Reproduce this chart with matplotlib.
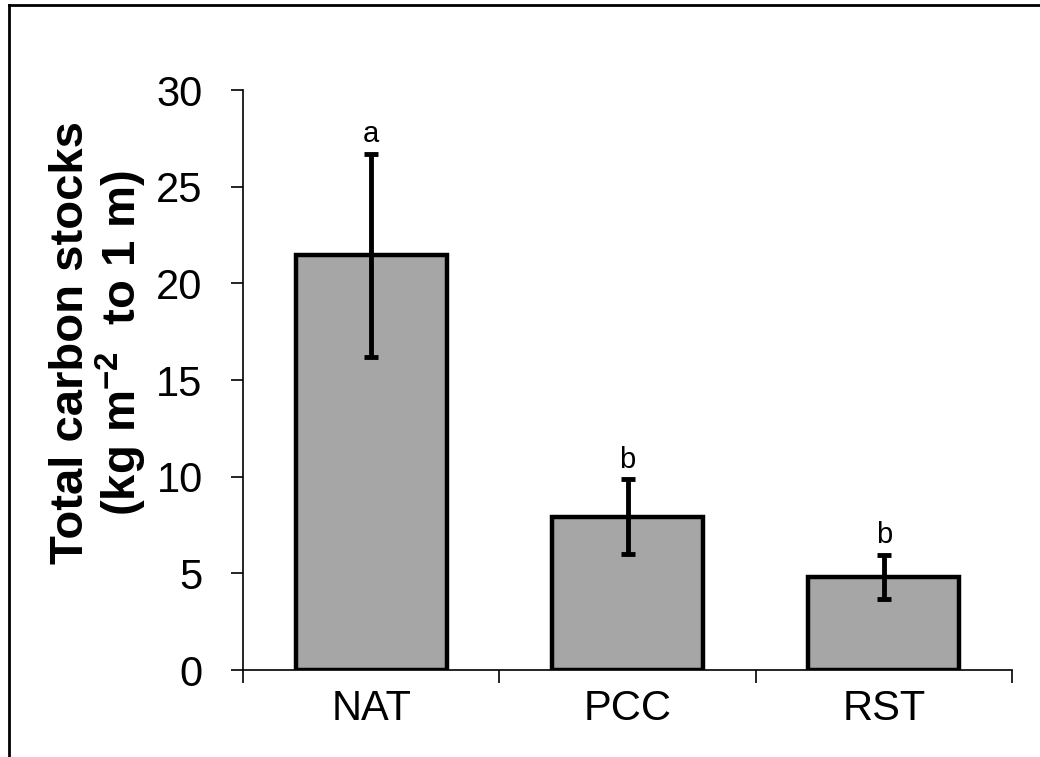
import matplotlib
matplotlib.use("Agg")
import matplotlib.pyplot as plt
from matplotlib.lines import Line2D

plt.rcParams['font.family'] = ['Liberation Sans', 'DejaVu Sans']
plt.rcParams['mathtext.fontset'] = 'custom'
plt.rcParams['mathtext.rm'] = 'Liberation Sans'
plt.rcParams['mathtext.bf'] = 'Liberation Sans:bold'

sites = ["NAT", "PCC", "RST"]
carbon = [21.45, 7.93, 4.83]
carbon_err = [5.25, 1.93, 1.14]
letters = ["a", "b", "b"]

W, H = 1040, 757


def main():
    fig = plt.figure(figsize=(W / 100, H / 100), dpi=100)
    ax = fig.add_axes([243 / W, 1 - 670 / H, (1012 - 243) / W, (670 - 90) / H])

    x = list(range(len(sites)))
    ax.bar(x, carbon, width=0.59, color="#a6a6a6", edgecolor="black", linewidth=3.2, zorder=2)
    ax.errorbar(x, carbon, yerr=carbon_err, fmt="none", ecolor="black",
                elinewidth=3.5, capsize=5, capthick=3.5, zorder=3)

    for i, lbl in enumerate(letters):
        ax.annotate(lbl, (i, carbon[i] + carbon_err[i]), xytext=(0, 4),
                    textcoords="offset points", ha="center", va="bottom", fontsize=21)

    ax.set_xlim(-0.5, 2.5)
    ax.set_ylim(0, 30)
    ax.set_yticks([0, 5, 10, 15, 20, 25, 30])
    ax.set_xticks(x)
    ax.set_xticklabels(sites)
    ax.set_xticks([-0.5, 0.5, 1.5, 2.5], minor=True)

    for side in ["top", "right"]:
        ax.spines[side].set_visible(False)
    ax.spines["left"].set_linewidth(1.2)
    ax.spines["bottom"].set_linewidth(1.2)

    ax.tick_params(axis="y", direction="out", length=9, width=1.2, pad=20, labelsize=30)
    ax.tick_params(axis="x", which="major", length=0, pad=14, labelsize=30)
    ax.tick_params(axis="x", which="minor", direction="out", length=9, width=1.2)

    fig.text(99 / W, 1 - 343 / H, "Total carbon stocks\n(kg m$^{\\mathbf{-2}}$  to 1 m)",
             rotation=90, ha="center", va="center", fontsize=34, fontweight="bold",
             linespacing=1.0)

    # figure border (clipped at right and bottom in the original)
    fig.add_artist(Line2D([9 / W, 9 / W], [0, 1 - 5 / H], color="black", linewidth=2,
                          transform=fig.transFigure))
    fig.add_artist(Line2D([9 / W, 1], [1 - 5 / H, 1 - 5 / H], color="black", linewidth=2,
                          transform=fig.transFigure))

    fig.savefig("out.png", dpi=100)


if __name__ == "__main__":
    main()
